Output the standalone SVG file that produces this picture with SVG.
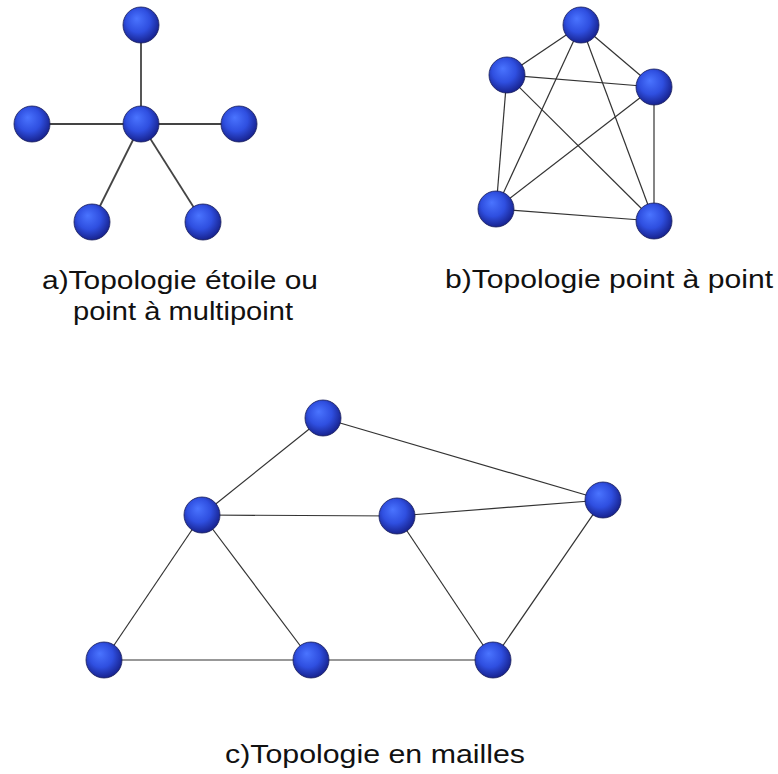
<svg xmlns="http://www.w3.org/2000/svg" width="778" height="774" viewBox="0 0 778 774">
<defs>
<radialGradient id="ball" cx="0.45" cy="0.42" r="0.6" fx="0.38" fy="0.32">
<stop offset="0" stop-color="#4a74ff"/>
<stop offset="0.55" stop-color="#2f4fe0"/>
<stop offset="1" stop-color="#16208a"/>
</radialGradient>
</defs>
<style>
.n{fill:url(#ball);stroke:#1a1f5a;stroke-width:0.8}
.e{stroke:#333;stroke-width:1.2;fill:none}
.es{stroke:#444;stroke-width:1.8;fill:none}
.t{font-family:"Liberation Sans",Arial,sans-serif;font-size:26px;fill:#111}
</style>
<rect width="778" height="774" fill="#fff"/>
<g id="connectors">
<line class="es" x1="141" y1="25" x2="141" y2="124"/>
<line class="es" x1="32" y1="124" x2="239" y2="124"/>
<line class="es" x1="141" y1="124" x2="92" y2="222"/>
<line class="es" x1="141" y1="124" x2="203" y2="222"/>
<line class="e" x1="581" y1="25" x2="507" y2="75"/>
<line class="e" x1="581" y1="25" x2="654" y2="87"/>
<line class="e" x1="581" y1="25" x2="496" y2="209"/>
<line class="e" x1="581" y1="25" x2="654" y2="221"/>
<line class="e" x1="507" y1="75" x2="654" y2="87"/>
<line class="e" x1="507" y1="75" x2="496" y2="209"/>
<line class="e" x1="507" y1="75" x2="654" y2="221"/>
<line class="e" x1="654" y1="87" x2="496" y2="209"/>
<line class="e" x1="654" y1="87" x2="654" y2="221"/>
<line class="e" x1="496" y1="209" x2="654" y2="221"/>
<line class="e" x1="323" y1="418" x2="202" y2="515"/>
<line class="e" x1="323" y1="418" x2="603" y2="500"/>
<line class="e" x1="202" y1="515" x2="397" y2="516"/>
<line class="e" x1="397" y1="516" x2="603" y2="500"/>
<line class="e" x1="202" y1="515" x2="104" y2="660"/>
<line class="e" x1="202" y1="515" x2="311" y2="660"/>
<line class="e" x1="104" y1="660" x2="311" y2="660"/>
<line class="e" x1="311" y1="660" x2="493" y2="660"/>
<line class="e" x1="397" y1="516" x2="493" y2="660"/>
<line class="e" x1="603" y1="500" x2="493" y2="660"/>
</g>
<g id="a-top"><circle class="n" cx="141" cy="25" r="18"/></g>
<g id="a-center"><circle class="n" cx="141" cy="124" r="18"/></g>
<g id="a-left"><circle class="n" cx="32" cy="124" r="18"/></g>
<g id="a-right"><circle class="n" cx="239" cy="124" r="18"/></g>
<g id="a-bl"><circle class="n" cx="92" cy="222" r="18"/></g>
<g id="a-br"><circle class="n" cx="203" cy="222" r="18"/></g>
<g id="b-top"><circle class="n" cx="581" cy="25" r="18"/></g>
<g id="b-left"><circle class="n" cx="507" cy="75" r="18"/></g>
<g id="b-right"><circle class="n" cx="654" cy="87" r="18"/></g>
<g id="b-bl"><circle class="n" cx="496" cy="209" r="18"/></g>
<g id="b-br"><circle class="n" cx="654" cy="221" r="18"/></g>
<g id="c-1"><circle class="n" cx="323" cy="418" r="18"/></g>
<g id="c-2"><circle class="n" cx="202" cy="515" r="18"/></g>
<g id="c-3"><circle class="n" cx="397" cy="516" r="18"/></g>
<g id="c-4"><circle class="n" cx="603" cy="500" r="18"/></g>
<g id="c-5"><circle class="n" cx="104" cy="660" r="18"/></g>
<g id="c-6"><circle class="n" cx="311" cy="660" r="18"/></g>
<g id="c-7"><circle class="n" cx="493" cy="660" r="18"/></g>
<g id="labels">
<text class="t" x="42" y="289" textLength="276" lengthAdjust="spacingAndGlyphs">a)Topologie étoile ou</text>
<text class="t" x="73" y="320" textLength="220" lengthAdjust="spacingAndGlyphs">point à multipoint</text>
<text class="t" x="445" y="288" textLength="328" lengthAdjust="spacingAndGlyphs">b)Topologie point à point</text>
<text class="t" x="225" y="763" textLength="300" lengthAdjust="spacingAndGlyphs">c)Topologie en mailles</text>
</g>
</svg>
